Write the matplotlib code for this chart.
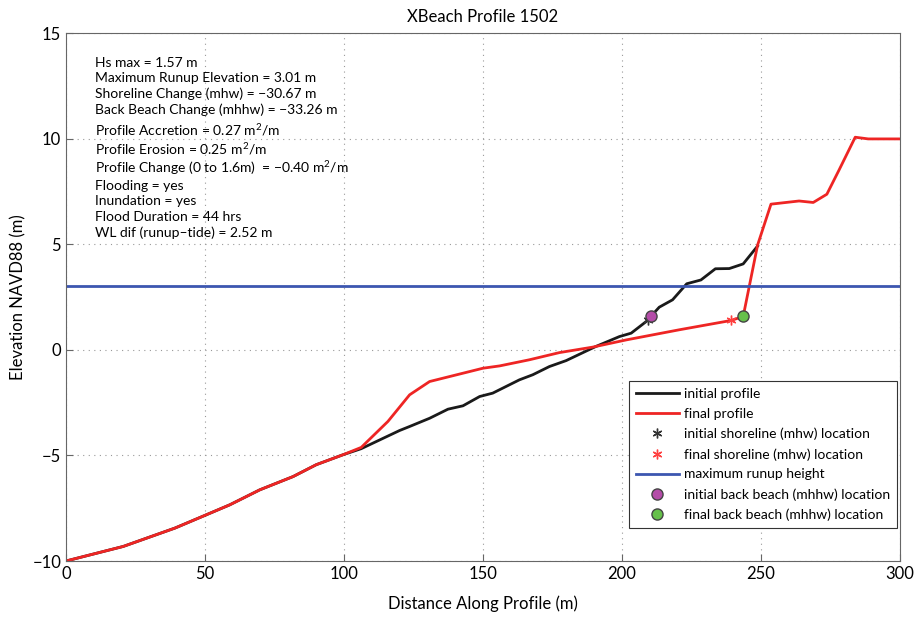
import matplotlib
matplotlib.use('Agg')
import matplotlib.pyplot as plt
import numpy as np

plt.rcParams['font.family'] = ['Lato', 'DejaVu Sans']
plt.rcParams['mathtext.fontset'] = 'custom'
plt.rcParams['mathtext.rm'] = 'Lato'

# initial profile (distance m, elevation m)
init_x = [0, 20.6, 39.2, 49.6, 58.9, 69.7, 81.7, 90, 99.6, 106.2, 120, 123.6, 130.8,
          137.4, 142.8, 148.8, 153.5, 163.1, 167.9, 173.9, 179.9, 190.6, 199.1, 203.3,
          208.7, 213.4, 218.2, 223.3, 228.4, 233.6, 238.6, 243.6, 248.8]
init_z = [-10, -9.31, -8.44, -7.86, -7.34, -6.63, -6.0, -5.44, -4.97, -4.68, -3.82, -3.63, -3.24,
          -2.81, -2.65, -2.21, -2.05, -1.42, -1.18, -0.79, -0.51, 0.16, 0.63, 0.79,
          1.34, 2.02, 2.37, 3.13, 3.31, 3.84, 3.85, 4.07, 4.92]

# final profile
final_x = [0, 20.6, 39.2, 49.6, 58.9, 69.7, 81.7, 90, 99.6, 106.2, 115.8, 123.6, 130.8,
           150, 156, 166.7, 177.5, 189.5, 201.5, 220.6, 239.2, 243.6, 248.8, 253.6,
           263.7, 268.8, 273.7, 278.1, 283.9, 288.6, 300]
final_z = [-10, -9.31, -8.44, -7.86, -7.34, -6.63, -6.0, -5.44, -4.97, -4.62, -3.39, -2.13, -1.5,
           -0.87, -0.76, -0.47, -0.13, 0.13, 0.47, 0.95, 1.39, 1.58, 4.97, 6.9,
           7.05, 6.98, 7.37, 8.52, 10.07, 9.99, 9.99]

runup = 3.01
init_shore = (209.2, 1.40)
final_shore = (239.2, 1.40)
init_back = (210.4, 1.58)
final_back = (243.6, 1.58)

info_lines = [
    "Hs max = 1.57 m",
    "Maximum Runup Elevation = 3.01 m",
    "Shoreline Change (mhw) = \u221230.67 m",
    "Back Beach Change (mhhw) = \u221233.26 m",
    "Profile Accretion = 0.27 m$^2$/m",
    "Profile Erosion = 0.25 m$^2$/m",
    "Profile Change (0 to 1.6m)  = \u22120.40 m$^2$/m",
    "Flooding = yes",
    "Inundation = yes",
    "Flood Duration = 44 hrs",
    "WL dif (runup\u2013tide) = 2.52 m",
]
# vertical gaps between info lines, in pixels
info_gaps = [0, 15.7, 15.7, 15.7, 19.5, 19.5, 19.5, 17.5, 15.7, 15.7, 15.7]

fig = plt.figure(figsize=(9.22, 6.25), dpi=100)
ax = fig.add_axes([0.0716, 0.1024, 0.9045, 0.8446])

ax.plot(init_x, init_z, color='#1a1a1a', lw=2, label='initial profile')
ax.plot(final_x, final_z, color='#ee2524', lw=2, label='final profile')
ax.plot(*init_shore, ls='none', marker=(6, 2, 0), color='#333333', ms=7, mew=1,
        label='initial shoreline (mhw) location')
ax.plot(*final_shore, ls='none', marker=(6, 2, 0), color='#ff4040', ms=7, mew=1,
        label='final shoreline (mhw) location')
ax.axhline(runup, color='#3c56b0', lw=2, label='maximum runup height')
ax.plot(*init_back, ls='none', marker='o', mfc='#b44ca8', mec='#444444', ms=8,
        label='initial back beach (mhhw) location')
ax.plot(*final_back, ls='none', marker='o', mfc='#66c04a', mec='#444444', ms=8,
        label='final back beach (mhhw) location')

ax.set_xlim(0, 300)
ax.set_ylim(-10, 15)
ax.set_xticks(np.arange(0, 301, 50))
ax.set_yticks(np.arange(-10, 16, 5))
ax.set_yticklabels(['\u221210', '\u22125', '0', '5', '10', '15'])
ax.grid(True, ls=(0, (1, 4)), color='#999999', lw=0.8)
ax.tick_params(direction='in', labelsize=12, length=5, color='#666666')
for s in ax.spines.values():
    s.set_color('#666666')

ax.set_title('XBeach Profile 1502', fontsize=12, pad=8)
ax.set_xlabel('Distance Along Profile (m)', fontsize=12, labelpad=10)
ax.set_ylabel('Elevation NAVD88 (m)', fontsize=12, labelpad=4)

# info text block, placed in axes pixels (axes height 528 px)
py = 62.5 - 33
for line, gap in zip(info_lines, info_gaps):
    py += gap
    ax.text(0.035, 1 - py / 528, line, fontsize=10, va='center', ha='left',
            transform=ax.transAxes)

leg = ax.legend(loc='lower right', bbox_to_anchor=(0.997, 0.0625), fontsize=10,
                frameon=True, fancybox=False, edgecolor='#333333', framealpha=1,
                borderaxespad=0, handlelength=3.1, handletextpad=0.4,
                labelspacing=0.56, borderpad=0.5)
leg.get_frame().set_linewidth(0.8)

fig.savefig('out.png', dpi=100)
